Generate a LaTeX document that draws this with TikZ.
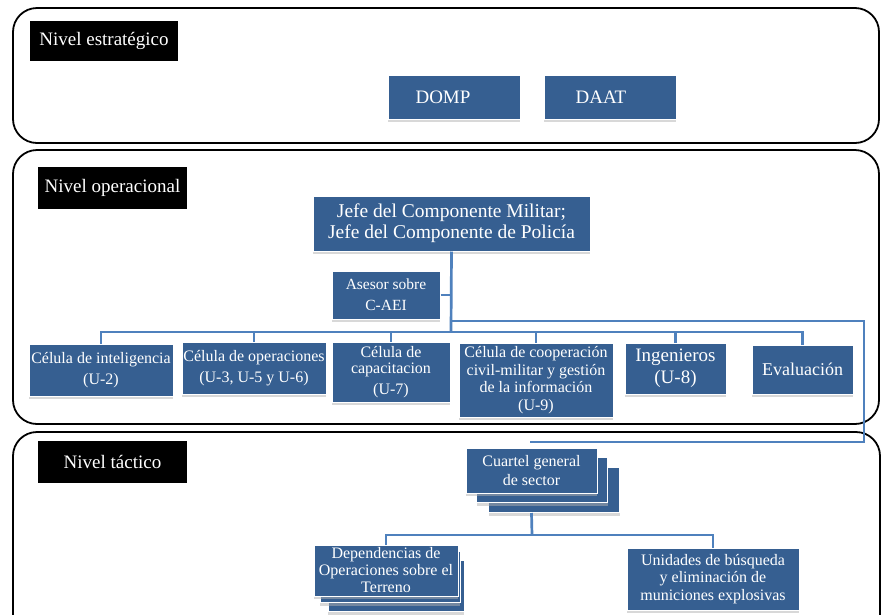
\documentclass[tikz,border=0pt]{standalone}
\usepackage{fontspec}
\setmainfont{Liberation Serif}
\usetikzlibrary{shadows}
\definecolor{boxblue}{RGB}{54,95,145}
\definecolor{lineblue}{RGB}{79,129,189}
\begin{document}
\begin{tikzpicture}[x=1pt,y=-1pt,
  panel/.style={draw=black, line width=1.8pt, rounded corners=24pt},
  lvl/.style={fill=black, text=white, inner sep=0pt},
  box/.style={fill=boxblue, draw=white, line width=1pt, text=white, align=center, inner sep=1pt,
    drop shadow={shadow xshift=0pt, shadow yshift=-3pt, fill=black!30, opacity=0.5}},
  conn/.style={draw=lineblue, line width=2.7pt}]
\useasboundingbox (0,0) rectangle (881,614);
\clip (0,0) rectangle (881,614);
\fill[white] (0,0) rectangle (881,614);

% panels
\draw[panel] (13,8) rectangle (879,143);
\draw[panel] (13,150) rectangle (879,424);
\draw[panel] (13,432) rectangle (880,640);

% level labels
\node[lvl, minimum width=148pt, minimum height=40pt, font=\fontsize{19}{21}\selectfont] (lblS) at (104,41) {Nivel estratégico};
\node[lvl, minimum width=149pt, minimum height=42pt, font=\fontsize{19}{21}\selectfont] (lblO) at (112.5,188) {Nivel operacional};
\node[lvl, minimum width=149pt, minimum height=42pt, font=\fontsize{19}{21}\selectfont] (lblT) at (112.5,462) {Nivel táctico};

% strategic
\node[box, minimum width=132pt, minimum height=44pt, font=\fontsize{19}{21}\selectfont] (domp) at (454,97) {\hspace*{-22pt}DOMP};
\node[box, minimum width=132pt, minimum height=44pt, font=\fontsize{19}{21}\selectfont] (daat) at (610,97) {\hspace*{-18pt}DAAT};

% operational
\node[box, minimum width=277pt, minimum height=55pt, font=\fontsize{19.5}{21}\selectfont] (jefe) at (451.5,223.5) {Jefe del Componente Militar;\\Jefe del Componente de Policía};
\node[box, minimum width=108pt, minimum height=48pt, font=\fontsize{15.5}{21}\selectfont] (ases) at (386,295) {Asesor sobre\\C-AEI};
\node[box, minimum width=144pt, minimum height=52pt, font=\fontsize{16}{21}\selectfont] (int) at (101,370) {Célula de inteligencia\\(U-2)};
\node[box, minimum width=144pt, minimum height=52pt, font=\fontsize{16}{21}\selectfont] (ops) at (254,368) {Célula de operaciones\\(U-3, U-5 y U-6)};
\node[box, minimum width=118pt, minimum height=60pt, font=\fontsize{16}{16.5}\selectfont] (cap) at (391,372) {Célula de\\capacitacion\\[4pt](U-7)};
\node[box, minimum width=154pt, minimum height=74pt, font=\fontsize{16}{17.5}\selectfont] (coop) at (536,380) {Célula de cooperación\\civil-militar y gestión\\de la información\\(U-9)};
\node[box, minimum width=101pt, minimum height=51pt, font=\fontsize{19}{22}\selectfont] (ing) at (675.5,368.5) {Ingenieros\\(U-8)};
\node[box, minimum width=101pt, minimum height=49pt, font=\fontsize{18}{21}\selectfont] (eval) at (802.5,369.5) {Evaluación};

% operational connectors
\coordinate (busC) at (451,332);
\coordinate (cor1) at (864,321);
\coordinate (cor2) at (864,442);
\coordinate (endT) at (530,442);
\draw[conn] (jefe.south) -- (busC);
\draw[conn] (ases.east) -- (ases.east -| jefe.south);
\draw[conn] (int.north) |- (eval.north |- busC) -- (eval.north);
\foreach \n in {ops,cap,coop,ing} \draw[conn] (\n.north) -- (\n.north |- busC);
\draw[conn] (jefe.south |- cor1) -- (cor1) -- (cor2) -- (endT);

% tactical
\node[box, minimum width=131pt, minimum height=45pt] (cg3) at (554,490) {};
\node[box, minimum width=131pt, minimum height=45pt] (cg2) at (542,480) {};
\node[box, minimum width=131pt, minimum height=45pt, font=\fontsize{16}{19}\selectfont] (cg1) at (531.5,470.5) {Cuartel general\\de sector};
\node[box, minimum width=136pt, minimum height=51pt] (dep3) at (396,586) {};
\node[box, minimum width=140pt, minimum height=51pt] (dep2) at (390,577) {};
\node[box, minimum width=144pt, minimum height=51pt, font=\fontsize{16}{17}\selectfont] (dep) at (386,570.5) {Dependencias de\\Operaciones sobre el\\Terreno};
\node[box, minimum width=172pt, minimum height=62pt, font=\fontsize{16}{17.5}\selectfont] (uni) at (713,579) {Unidades de búsqueda\\y eliminación de\\municiones explosivas};

\coordinate (busT) at (532,535);
\draw[conn] (cg1.south |- cg3.south) -- (busT);
\draw[conn] (dep.north) |- (busT) -| (uni.north);
\end{tikzpicture}
\end{document}
